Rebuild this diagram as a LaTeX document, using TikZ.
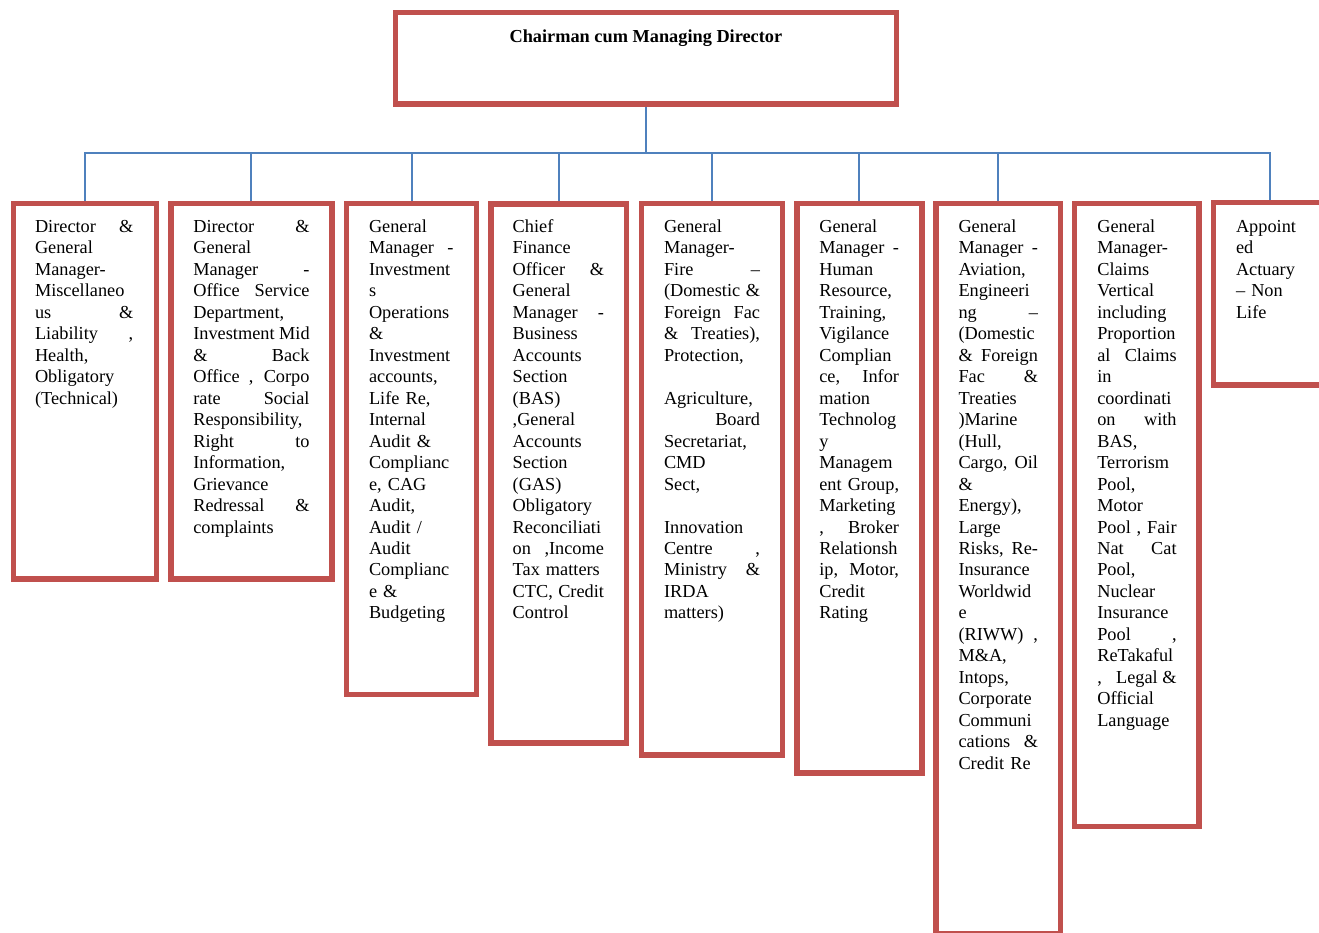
\documentclass[tikz,border=0pt]{standalone}
\usepackage{fontspec}
\setmainfont{Liberation Serif}
\definecolor{boxred}{HTML}{C0504D}
\definecolor{linkblue}{HTML}{4F81BD}
\newlength\colw
\newcommand\Jx[1]{\makebox[\colw][s]{\spaceskip=.25em plus 1fil\relax\xspaceskip=.25em plus 1fil\relax#1}}
\newcommand\Lx[1]{\mbox{#1}}
\newcommand\Rx[1]{\makebox[\colw][r]{#1}}
\tikzset{
  orgbox/.style={draw=boxred, line width=5.3pt, outer sep=2.65pt, inner sep=0pt, anchor=north west, fill=white},
  link/.style={draw=linkblue, line width=2pt, line join=miter},
  boxtext/.style={anchor=north west, inner sep=0pt, outer sep=0pt, align=left, text width=#1,
    execute at begin node={\setlength{\colw}{#1}\parindent=0pt},
    font=\fontsize{18.3pt}{21.48pt}\selectfont},
}
\begin{document}
\begin{tikzpicture}[x=1pt,y=-1pt]
\useasboundingbox (0,0) rectangle (1319,932);
\fill[white] (0,0) rectangle (1319,932);
\clip (0,0) rectangle (1319,932);

% boxes
\node[orgbox, minimum width=501.5pt, minimum height=91.9pt] (cmd) at (392.5,9.5) {};
\node[orgbox, minimum width=143pt,   minimum height=375.7pt] (b1) at (10.7,200.7) {};
\node[orgbox, minimum width=160.9pt, minimum height=375.7pt] (b2) at (168.3,200.7) {};
\node[orgbox, minimum width=129.7pt, minimum height=491pt]   (b3) at (344,200.7) {};
\node[orgbox, minimum width=135.7pt, minimum height=538.9pt] (b4) at (488.3,201.3) {};
\node[orgbox, minimum width=140.7pt, minimum height=551.5pt] (b5) at (639,200.7) {};
\node[orgbox, minimum width=124.9pt, minimum height=569.5pt] (b6) at (794.3,200.7) {};
\node[orgbox, minimum width=124.4pt, minimum height=730.3pt] (b7) at (933.3,201) {};
\node[orgbox, minimum width=124.4pt, minimum height=622.7pt] (b8) at (1072,201) {};
\node[orgbox, minimum width=112.7pt, minimum height=182.4pt] (b9) at (1211,200) {};

% connectors
\coordinate (bus) at (0,153.3);
\draw[link] (cmd.south) -- (cmd.south |- bus);
\draw[link] (b1.north) -- (b1.north |- bus) -- (b9.north |- bus) -- (b9.north);
\foreach \b in {b2,b3,b4,b5,b6,b7} \draw[link] (\b.north |- bus) -- (\b.north);

% title
\node[anchor=base, inner sep=0pt, font=\fontsize{18.3pt}{21.48pt}\selectfont\bfseries] (t0)
  at (cmd.center |- {(0,42.3)}) {Chairman cum Managing Director};

% texts
\node[boxtext=98.3pt] (t1) at (35,217.26) {\strut\Jx{Director \&}\\
\Lx{General}\\
\Lx{Manager-}\\
\Lx{Miscellaneo}\\
\Jx{us \&}\\
\Jx{Liability ,}\\
\Lx{Health,}\\
\Lx{Obligatory}\\
\Lx{(Technical)}};

\node[boxtext=116.2pt] (t2) at (193.3,217.26) {\strut\Jx{Director \&}\\
\Lx{General}\\
\Jx{Manager -}\\
\Jx{Office Service}\\
\Lx{Department,}\\
\Jx{Investment Mid}\\
\Jx{\& Back}\\
\Jx{Office , Corpo}\\
\Jx{rate Social}\\
\Lx{Responsibility,}\\
\Jx{Right to}\\
\Lx{Information,}\\
\Lx{Grievance}\\
\Jx{Redressal \&}\\
\Lx{complaints}};

\node[boxtext=84.5pt] (t3) at (369,217.26) {\strut\Lx{General}\\
\Jx{Manager -}\\
\Lx{Investment}\\
\Lx{s}\\
\Lx{Operations}\\
\Lx{\&}\\
\Lx{Investment}\\
\Lx{accounts,}\\
\Lx{Life Re,}\\
\Lx{Internal}\\
\Lx{Audit \&}\\
\Lx{Complianc}\\
\Lx{e, CAG}\\
\Lx{Audit,}\\
\Lx{Audit /}\\
\Lx{Audit}\\
\Lx{Complianc}\\
\Lx{e \&}\\
\Lx{Budgeting}};

\node[boxtext=91.3pt] (t4) at (512.7,217.26) {\strut\Lx{Chief}\\
\Lx{Finance}\\
\Jx{Officer \&}\\
\Lx{General}\\
\Jx{Manager -}\\
\Lx{Business}\\
\Lx{Accounts}\\
\Lx{Section}\\
\Lx{(BAS)}\\
\Lx{,General}\\
\Lx{Accounts}\\
\Lx{Section}\\
\Lx{(GAS)}\\
\Lx{Obligatory}\\
\Lx{Reconciliati}\\
\Jx{on ,Income}\\
\Lx{Tax matters}\\
\Jx{CTC, Credit}\\
\Lx{Control}};

\node[boxtext=96pt] (t5) at (664,217.26) {\strut\Lx{General}\\
\Lx{Manager-}\\
\Jx{Fire –}\\
\Jx{(Domestic \&}\\
\Jx{Foreign Fac}\\
\Jx{\& Treaties),}\\
\Lx{Protection,}\\
\mbox{}\\
\Lx{Agriculture,}\\
\Rx{Board}\\
\Lx{Secretariat,}\\
\Lx{CMD}\\
\Lx{Sect,}\\
\mbox{}\\
\Lx{Innovation}\\
\Jx{Centre ,}\\
\Jx{Ministry \&}\\
\Lx{IRDA}\\
\Lx{matters)}};

\node[boxtext=79.7pt] (t6) at (819.3,217.26) {\strut\Lx{General}\\
\Jx{Manager -}\\
\Lx{Human}\\
\Lx{Resource,}\\
\Lx{Training,}\\
\Lx{Vigilance}\\
\Lx{Complian}\\
\Jx{ce, Infor}\\
\Lx{mation}\\
\Lx{Technolog}\\
\Lx{y}\\
\Lx{Managem}\\
\Lx{ent Group,}\\
\Lx{Marketing}\\
\Jx{, Broker}\\
\Lx{Relationsh}\\
\Jx{ip, Motor,}\\
\Lx{Credit}\\
\Lx{Rating}};

\node[boxtext=79.5pt] (t7) at (958.5,217.26) {\strut\Lx{General}\\
\Jx{Manager -}\\
\Lx{Aviation,}\\
\Lx{Engineeri}\\
\Jx{ng –}\\
\Lx{(Domestic}\\
\Jx{\& Foreign}\\
\Jx{Fac \&}\\
\Lx{Treaties}\\
\Lx{)Marine}\\
\Lx{(Hull,}\\
\Jx{Cargo, Oil}\\
\Lx{\&}\\
\Lx{Energy),}\\
\Lx{Large}\\
\Jx{Risks, Re-}\\
\Lx{Insurance}\\
\Lx{Worldwid}\\
\Lx{e}\\
\Jx{(RIWW) ,}\\
\Lx{M\&A,}\\
\Lx{Intops,}\\
\Lx{Corporate}\\
\Lx{Communi}\\
\Jx{cations \&}\\
\Lx{Credit Re}};

\node[boxtext=79.3pt] (t8) at (1097.3,217.26) {\strut\Lx{General}\\
\Lx{Manager-}\\
\Lx{Claims}\\
\Lx{Vertical}\\
\Lx{including}\\
\Lx{Proportion}\\
\Jx{al Claims}\\
\Lx{in}\\
\Lx{coordinati}\\
\Jx{on with}\\
\Lx{BAS,}\\
\Lx{Terrorism}\\
\Lx{Pool,}\\
\Lx{Motor}\\
\Jx{Pool , Fair}\\
\Jx{Nat Cat}\\
\Lx{Pool,}\\
\Lx{Nuclear}\\
\Lx{Insurance}\\
\Jx{Pool ,}\\
\Lx{ReTakaful}\\
\Jx{,\hfill Legal \&}\\
\Lx{Official}\\
\Lx{Language}};

\node[boxtext=70pt] (t9) at (1236,217.26) {\strut\Lx{Appoint}\\
\Lx{ed}\\
\Lx{Actuary}\\
\Lx{– Non}\\
\Lx{Life}};
\end{tikzpicture}
\end{document}
